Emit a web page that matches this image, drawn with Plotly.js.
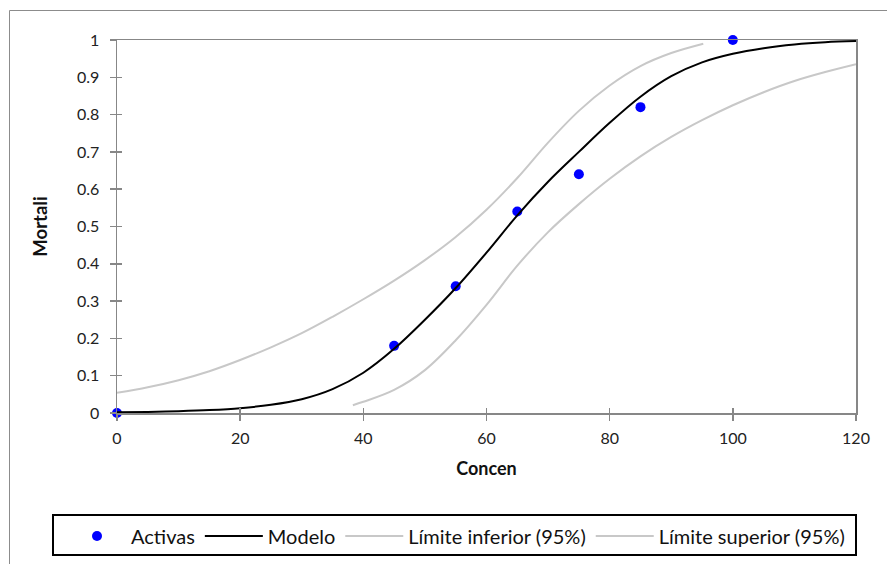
<!DOCTYPE html>
<html>
<head>
<meta charset="utf-8">
<script src="https://cdn.plot.ly/plotly-3.0.1.min.js"></script>
<style>
html,body{margin:0;padding:0;background:#fff;}
#chart{width:887px;height:564px;}
</style>
</head>
<body>
<div id="chart"></div>
<script>
// Observed points
const obsX = [0, 45, 55, 65, 75, 85, 100];
const obsY = [0, 0.18, 0.34, 0.54, 0.64, 0.82, 1];

// Fitted model curve
const modelX = [0, 5, 10, 15, 20, 25, 30, 35, 40, 45, 50, 55, 60, 65, 70, 75, 80, 85, 90, 95, 100, 105, 110, 115, 120];
const modelY = [0.002, 0.003, 0.005, 0.008, 0.013, 0.022, 0.037, 0.064, 0.108, 0.172, 0.25, 0.335, 0.43, 0.53, 0.62, 0.7, 0.778, 0.848, 0.903, 0.94, 0.963, 0.978, 0.988, 0.994, 0.997];

// Lower confidence limit
const lowX = [38.3, 40, 45, 50, 55, 60, 65, 70, 75, 80, 85, 90, 95, 100, 105, 110, 115, 120];
const lowY = [0.021, 0.03, 0.062, 0.115, 0.195, 0.29, 0.395, 0.485, 0.56, 0.628, 0.688, 0.74, 0.785, 0.825, 0.86, 0.89, 0.914, 0.935];

// Upper confidence limit
const upX = [0, 5, 10, 15, 20, 25, 30, 35, 40, 45, 50, 55, 60, 65, 70, 75, 80, 85, 90, 95.2];
const upY = [0.054, 0.069, 0.088, 0.112, 0.142, 0.176, 0.214, 0.258, 0.305, 0.355, 0.41, 0.472, 0.545, 0.63, 0.725, 0.81, 0.878, 0.93, 0.965, 0.99];

const xTicks = [0, 20, 40, 60, 80, 100, 120];
const yTicks = [0, 0.1, 0.2, 0.3, 0.4, 0.5, 0.6, 0.7, 0.8, 0.9, 1];
const yTickText = ['0', '0.1', '0.2', '0.3', '0.4', '0.5', '0.6', '0.7', '0.8', '0.9', '1'];

const FONT = 'Lato, "Open Sans", sans-serif';
const GRAY = '#c8c8c8';
const AXIS = '#878787';

const traces = [
  {x: obsX, y: obsY, name: 'Activas', type: 'scatter', mode: 'markers',
   marker: {color: '#0000ff', size: 10}, cliponaxis: false},
  {x: modelX, y: modelY, name: 'Modelo', type: 'scatter', mode: 'lines',
   line: {color: '#000000', width: 2, shape: 'spline', smoothing: 1}, cliponaxis: false},
  {x: lowX, y: lowY, name: 'Límite inferior (95%)', type: 'scatter', mode: 'lines',
   line: {color: GRAY, width: 2, shape: 'spline', smoothing: 1}},
  {x: upX, y: upY, name: 'Límite superior (95%)', type: 'scatter', mode: 'lines',
   line: {color: GRAY, width: 2, shape: 'spline', smoothing: 1}}
];

const layout = {
  width: 887, height: 564,
  margin: {l: 117, r: 31, t: 40, b: 151, autoexpand: false},
  paper_bgcolor: '#ffffff', plot_bgcolor: '#ffffff',
  font: {family: FONT, size: 16, color: '#222'},
  showlegend: true,
  legend: {
    orientation: 'h', xref: 'paper', yref: 'paper',
    x: (63 - 117) / 739, xanchor: 'left',
    y: (413 - 536) / 373, yanchor: 'middle',
    font: {family: FONT, size: 20, color: '#111'},
    borderwidth: 0, bgcolor: 'rgba(0,0,0,0)', itemwidth: 58
  },
  xaxis: {
    range: [0, 120], tickvals: xTicks, ticks: 'outside', ticklen: 6, tickwidth: 1.5,
    tickcolor: AXIS, showline: true, linecolor: AXIS, linewidth: 1.5, mirror: true,
    showgrid: false, zeroline: false, fixedrange: true, ticklabelstandoff: 4,
    tickfont: {family: FONT, size: 16, color: '#222'},
    title: {text: '<b>Concen</b>', font: {family: FONT, size: 18, color: '#111'}, standoff: 16}
  },
  yaxis: {
    range: [0, 1], tickvals: yTicks, ticktext: yTickText, ticks: 'outside', ticklen: 6, tickwidth: 1.5,
    tickcolor: AXIS, showline: true, linecolor: AXIS, linewidth: 1.5, mirror: true,
    showgrid: false, zeroline: false, fixedrange: true, ticklabelstandoff: 7,
    tickfont: {family: FONT, size: 16, color: '#222'},
    title: {text: '<b>Mortali</b>', font: {family: FONT, size: 18.5, color: '#111'}, standoff: 24}
  },
  xaxis2: {overlaying: 'x', matches: 'x', range: [0, 120], tickvals: xTicks, ticks: 'inside', ticklen: 5,
    tickwidth: 1.5, tickcolor: AXIS, showticklabels: false, showline: false, showgrid: false, zeroline: false, side: 'bottom'},
  yaxis2: {overlaying: 'y', matches: 'y', range: [0, 1], tickvals: yTicks, ticks: 'inside', ticklen: 5,
    tickwidth: 1.5, tickcolor: AXIS, showticklabels: false, showline: false, showgrid: false, zeroline: false, side: 'left'},
  shapes: [
    // outer chart border (clipped by the window on right and bottom)
    {type: 'rect', xref: 'paper', yref: 'paper',
     x0: (9.5 - 117) / 739, x1: (900 - 117) / 739, y0: (413 - 600) / 373, y1: (413 - 10.5) / 373,
     line: {color: '#8c8c8c', width: 1}, fillcolor: 'rgba(0,0,0,0)', layer: 'below'},
    // legend frame
    {type: 'rect', xref: 'paper', yref: 'paper',
     x0: (53 - 117) / 739, x1: (856 - 117) / 739, y0: (413 - 555) / 373, y1: (413 - 515) / 373,
     line: {color: '#000000', width: 2}, fillcolor: 'rgba(0,0,0,0)'}
  ]
};

// invisible helper trace so the overlay axes (cross ticks) are drawn
traces.push({x: [0], y: [0], xaxis: 'x2', yaxis: 'y2', mode: 'markers', marker: {opacity: 0}, showlegend: false, hoverinfo: 'skip'});

Plotly.newPlot('chart', traces, layout, {displayModeBar: false, staticPlot: true});
</script>
</body>
</html>
